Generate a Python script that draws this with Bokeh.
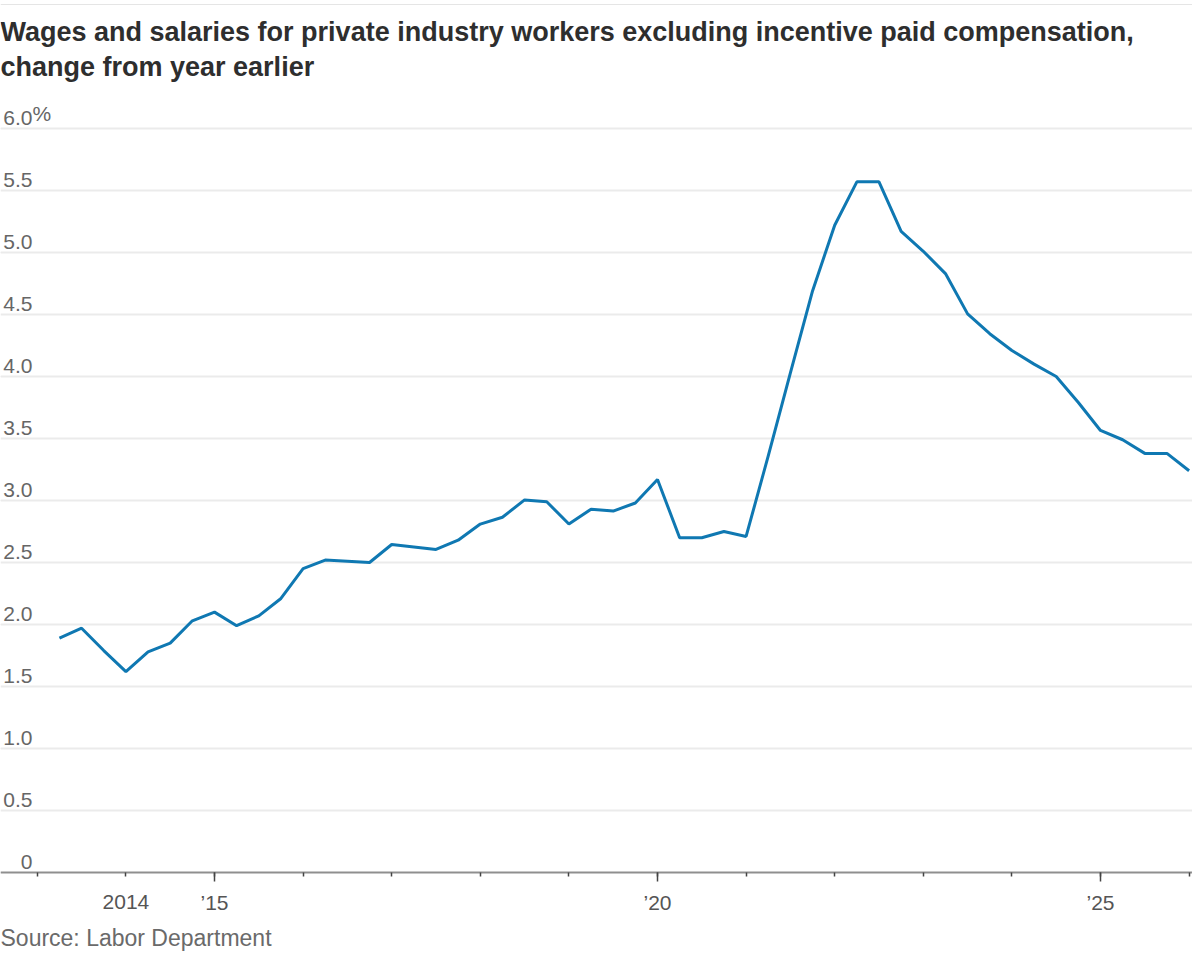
from bokeh.plotting import figure
from bokeh.models import Label, FixedTicker, Grid, Range1d
from bokeh.embed import file_html
from bokeh.resources import INLINE

# ---------------- data ----------------
quarters = [f"{y}Q{q}" for y in range(2013, 2026) for q in (1, 2, 3, 4)]
wage_growth = [
    1.89, 1.97, 1.79, 1.62,
    1.78, 1.85, 2.03, 2.10,
    1.99, 2.07, 2.21, 2.45,
    2.52, 2.51, 2.50, 2.645,
    2.625, 2.605, 2.68, 2.81,
    2.865, 3.005, 2.99, 2.81,
    2.93, 2.915, 2.98, 3.17,
    2.70, 2.70, 2.75, 2.71,
    3.36, 4.03, 4.69, 5.22,
    5.57, 5.57, 5.17, 5.01,
    4.83, 4.505, 4.345, 4.21,
    4.10, 4.00, 3.79, 3.565,
    3.49, 3.38, 3.38, 3.24,
]
y_ticks = [0, 0.5, 1.0, 1.5, 2.0, 2.5, 3.0, 3.5, 4.0, 4.5, 5.0, 5.5, 6.0]
y_tick_labels = ["0", "0.5", "1.0", "1.5", "2.0", "2.5", "3.0", "3.5", "4.0", "4.5", "5.0", "5.5", "6.0"]
x_major_ticks = [2015, 2020, 2025]
x_major_labels = ["\u201915", "\u201920", "\u201925"]
x_minor_ticks = list(range(2013, 2027))
first_year = 2014
first_year_label = "2014"
title_line1 = "Wages and salaries for private industry workers excluding incentive paid compensation,"
title_line2 = "change from year earlier"
source_text = "Source: Labor Department"

# quarter-end position in decimal years
x_vals = [int(s[:4]) + int(s[-1]) / 4 for s in quarters]

LINE_COLOR = "#0f78b2"
LABEL_FONT = "Liberation Sans"
W, H = 1192, 951

p = figure(
    width=W, height=H,
    x_range=Range1d(2012.5847, 2026.0384),
    y_range=Range1d(-0.6371, 7.0323),
    output_backend="svg", toolbar_location=None,
    y_axis_location=None,
    min_border_left=0, min_border_right=0,
    min_border_top=0, min_border_bottom=0,
)
p.outline_line_color = None
p.background_fill_color = "white"
p.border_fill_color = "white"
p.xgrid.visible = False

grid = Grid(dimension=1, ticker=FixedTicker(ticks=y_ticks[1:]),
            grid_line_color="#ebebeb", grid_line_width=2)
p.add_layout(grid)

ax = p.xaxis[0]
ax.fixed_location = 0
ax.ticker = FixedTicker(ticks=x_major_ticks, minor_ticks=x_minor_ticks)
ax.major_label_overrides = {t: l for t, l in zip(x_major_ticks, x_major_labels)}
ax.axis_line_color = "#8f8f8f"
ax.axis_line_width = 2
ax.major_tick_in = 0
ax.major_tick_out = 9
ax.minor_tick_in = 0
ax.minor_tick_out = 4
ax.major_tick_line_color = "#444444"
ax.minor_tick_line_color = "#444444"
ax.major_tick_line_width = 1.5
ax.minor_tick_line_width = 1.5
ax.major_label_standoff = 9
ax.major_label_text_font = LABEL_FONT
ax.major_label_text_font_size = "21px"
ax.major_label_text_color = "#555555"

p.line(x_vals, wage_growth, line_color=LINE_COLOR, line_width=3)

p.add_layout(Label(x=first_year, y=0, y_offset=-22, text=first_year_label,
                   text_align="center", text_baseline="top",
                   text_font=LABEL_FONT, text_font_size="21px", text_color="#555555"))

for v, lab in zip(y_ticks, y_tick_labels):
    p.add_layout(Label(x=32, x_units="screen", y=v, y_offset=4, text=lab,
                       text_align="right", text_baseline="bottom",
                       text_font=LABEL_FONT, text_font_size="21px", text_color="#666666"))
    if lab == "6.0":
        p.add_layout(Label(x=32, x_units="screen", y=v, y_offset=4, text="%",
                           text_align="left", text_baseline="bottom",
                           text_font=LABEL_FONT, text_font_size="21px", text_color="#666666"))

# titles / source, placed in screen px measured up from the bottom of the frame
p.add_layout(Label(x=0, x_units="screen", y=H - 31, y_units="screen", text=title_line1,
                   text_align="left", text_baseline="alphabetic",
                   text_font=LABEL_FONT, text_font_style="bold", text_font_size="27px",
                   text_color="#2e2e2e"))
p.add_layout(Label(x=0, x_units="screen", y=H - 66, y_units="screen", text=title_line2,
                   text_align="left", text_baseline="alphabetic",
                   text_font=LABEL_FONT, text_font_style="bold", text_font_size="27px",
                   text_color="#2e2e2e"))
p.add_layout(Label(x=0, x_units="screen", y=14, y_units="screen", text=source_text,
                   text_align="left", text_baseline="alphabetic",
                   text_font=LABEL_FONT, text_font_size="23px", text_color="#6a6a6a"))

open("out.html", "w").write(file_html(p, INLINE))
